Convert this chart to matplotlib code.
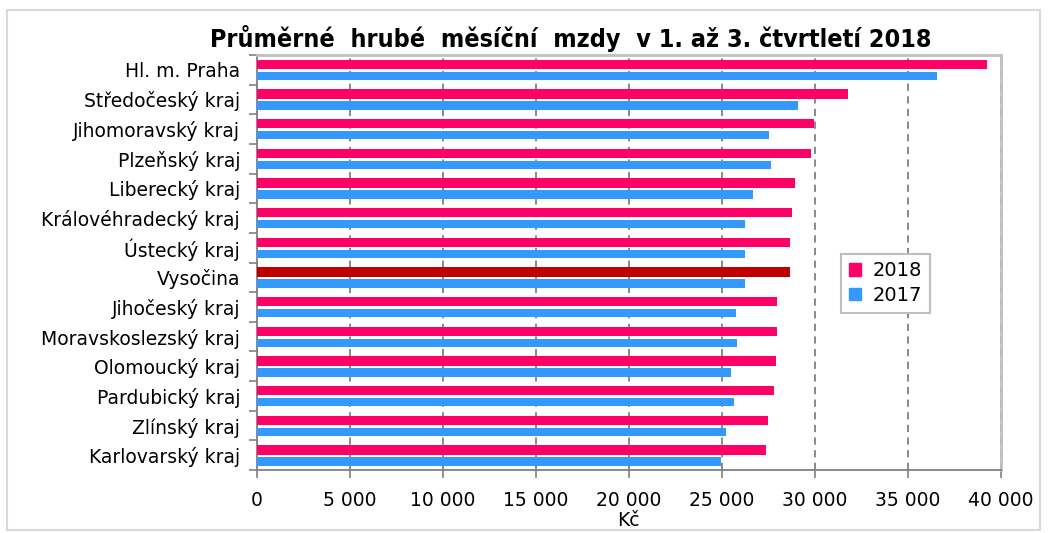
import numpy as np
import matplotlib
matplotlib.use('Agg')
from matplotlib import pyplot as plt
from matplotlib.patches import Rectangle, Patch

regions = ['Hl. m. Praha', 'Středočeský kraj', 'Jihomoravský kraj', 'Plzeňský kraj',
           'Liberecký kraj', 'Královéhradecký kraj', 'Ústecký kraj', 'Vysočina',
           'Jihočeský kraj', 'Moravskoslezský kraj', 'Olomoucký kraj', 'Pardubický kraj',
           'Zlínský kraj', 'Karlovarský kraj']
wages_2018 = [39250, 31760, 29930, 29800, 28960, 28750, 28640, 28640,
              27990, 27990, 27890, 27780, 27460, 27350]
wages_2017 = [36560, 29070, 27560, 27670, 26700, 26270, 26270, 26270,
              25740, 25840, 25520, 25630, 25200, 24980]
xticks = [0, 5000, 10000, 15000, 20000, 25000, 30000, 35000, 40000]
highlight = 'Vysočina'

c18 = '#FF0066'
c17 = '#3399FF'
c_hi = '#C00000'

plt.rcParams['font.family'] = ['DejaVu Sans']

fig = plt.figure(figsize=(10.48, 5.33), dpi=100)
ax = fig.add_axes([0.245, 0.118, 0.710, 0.779])

y = np.arange(len(regions))
cols18 = [c_hi if r == highlight else c18 for r in regions]
ax.barh(y - 0.18, wages_2018, height=0.31, color=cols18, zorder=3)
ax.barh(y + 0.21, wages_2017, height=0.28, color=c17, zorder=3)

ax.set_ylim(len(regions) - 0.5, -0.5)
ax.set_xlim(0, 40000)

ax.set_yticks(y)
ax.set_yticklabels(regions, fontsize=13.5)
ax.set_yticks(np.arange(len(regions) + 1) - 0.5, minor=True)
ax.tick_params(axis='y', which='major', length=0, pad=12)
ax.tick_params(axis='y', which='minor', length=6, color='#808080', width=1.2)

ax.set_xticks(xticks)
ax.set_xticklabels(['{:,}'.format(v).replace(',', ' ') for v in xticks], fontsize=13.5)
ax.tick_params(axis='x', length=6, color='#808080', width=1.2, pad=9)
ax.set_xlabel('Kč', fontsize=13.5, labelpad=1)

ax.grid(axis='x', color='#808080', linestyle=(0, (4, 3)), linewidth=1.3, zorder=0)
ax.set_axisbelow(True)

for s in ['left', 'bottom']:
    ax.spines[s].set_color('#808080')
    ax.spines[s].set_linewidth(1.3)
for s in ['top', 'right']:
    ax.spines[s].set_color('#C0C0C0')
    ax.spines[s].set_linewidth(2)

# title sits left of the plot-area centre in the original
fig.text(0.545, 0.928, 'Průměrné  hrubé  měsíční  mzdy  v 1. až 3. čtvrtletí 2018',
         ha='center', va='center', fontsize=18, fontweight='bold',
         fontstretch='condensed')

handles = [Patch(color=c18, label='2018'), Patch(color=c17, label='2017')]
leg = ax.legend(handles=handles, loc='center', bbox_to_anchor=(0.845, 0.45),
                fontsize=14, fancybox=False, framealpha=1, edgecolor='#BFBFBF',
                handlelength=0.6, handleheight=0.6, handletextpad=0.6,
                borderpad=0.4, labelspacing=0.3)
leg.get_frame().set_linewidth(1.5)

fig.patches.append(Rectangle((0.007, 0.006), 0.985, 0.975, transform=fig.transFigure,
                             fill=False, edgecolor='#D9D9D9', linewidth=1.5))

fig.savefig('out.png', dpi=100)
